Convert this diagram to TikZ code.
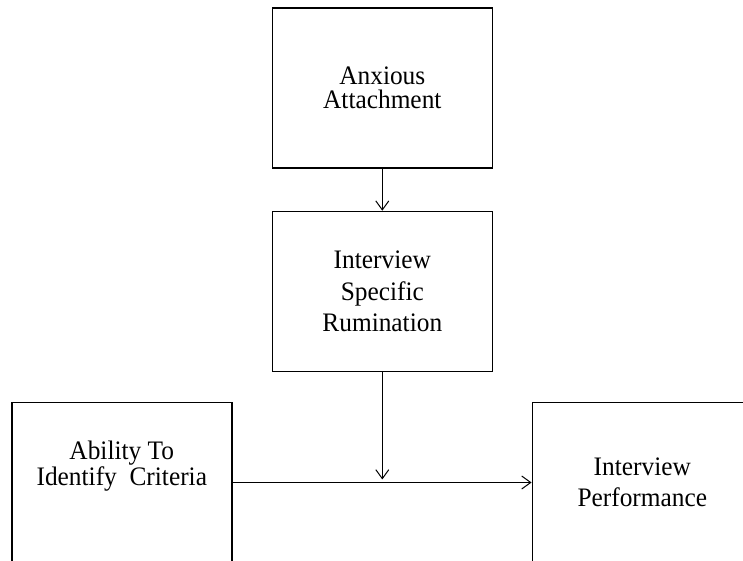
\documentclass[tikz,border=0pt]{standalone}
\usepackage{fontspec}
\setmainfont{Liberation Serif}[FakeStretch=0.95]
\usepackage{tikz}
\usetikzlibrary{arrows.meta, calc, positioning}
\usepackage{xcolor}
\definecolor{RichBlack}{rgb}{0, 0, 0}
\tikzset{%
  factor_block/.style={%
    rectangle,%
    draw=RichBlack,%
    line width=1.5bp,%
    minimum width=220bp,%
    minimum height=160bp,%
    inner sep=0pt,%
    align=center,%
  },
  tight_text/.style={%
    font={\fontsize{26.8}{24}\selectfont},%
  },
  loose_text/.style={%
    font={\fontsize{26.8}{31.5}\selectfont},%
  },
  smooth_path/.style={%
    color=RichBlack,%
    line join=round,%
    line width=1bp,%
  },
  arrow/.style={-{Straight Barb[length=9bp, width=13bp]}},
}
\begin{document}
\begin{tikzpicture}[x=1bp, y=1bp]

    \useasboundingbox (0, 0) rectangle (743, 561);

    \node [factor_block, tight_text] (Anxious) at (382.3, 473) {Anxious\\Attachment};
    \node [factor_block, loose_text, below = 42 of Anxious] (Rumination)
      {Interview\\Specific\\Rumination};
    \node [factor_block, tight_text, text depth=39bp,
      below left = 29.5 and 39 of Rumination] (Ability)
      {Ability To\\Identify~~Criteria};
    \node [factor_block, loose_text,
      below right = 29.5 and 38.5 of Rumination] (Performance)
      {Interview\\Performance};

    % moderator meets the main path just above it
    \coordinate (join) at (Rumination.south |- Ability.east);

    \draw [arrow, smooth_path]
      (Anxious.south)
      --
      (Rumination.north);
    \draw [arrow, smooth_path]
      (Ability.east)
      --
      (Performance.west);
    \draw [arrow, smooth_path, shorten >=3bp]
      (Rumination.south)
      --
      (join);

  \end{tikzpicture}
\end{document}
